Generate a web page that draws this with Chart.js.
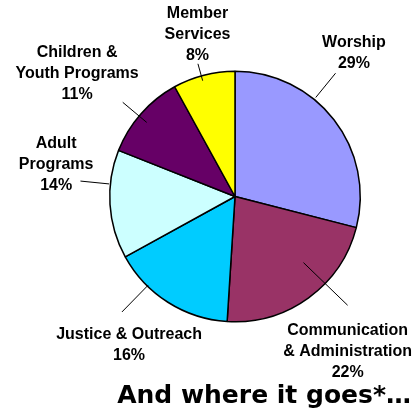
<!DOCTYPE html>
<html>
<head>
<meta charset="utf-8">
<script src="https://cdn.jsdelivr.net/npm/chart.js@4/dist/chart.umd.min.js"></script>
<style>
  html, body { margin: 0; padding: 0; background: #fff; }
  #wrap { width: 413px; height: 413px; }
</style>
</head>
<body>
<div id="wrap"><canvas id="pie" width="413" height="413"></canvas></div>
<script>
// budget split, clockwise from 12 o'clock
const categories = ['Worship', 'Communication\n& Administration', 'Justice & Outreach', 'Adult\nPrograms', 'Children &\nYouth Programs', 'Member\nServices'];
const shares = [29, 22, 16, 14, 11, 8];
const sliceColors = ['#9999FF', '#993366', '#00CCFF', '#CCFFFF', '#660066', '#FFFF00'];
const titleText = 'And where it goes*\u2026';

// label placement relative to each slice's mid angle (degrees / fraction of radius)
const labelLayout = [
  { dA: -12.6, dist: 1.49, lineA: -13, l0: 1.02, l1: 1.27 },
  { dA: 0,     dist: 1.53, lineA: -10, l0: 0.76, l1: 1.25 },
  { dA: 3,     dist: 1.46, lineA: 12,  l0: 0.99, l1: 1.29 },
  { dA: 13.6,  dist: 1.45, lineA: 9.3, l0: 1.01, l1: 1.24 },
  { dA: -3.4,  dist: 1.60, lineA: -1.4, l0: 0.92, l1: 1.17 },
  { dA: 1.4,   dist: 1.33, lineA: -1.2, l0: 0.96, l1: 1.10 }
];

const labelPlugin = {
  id: 'pieLabels',
  afterDatasetsDraw(chart) {
    const ctx = chart.ctx;
    const meta = chart.getDatasetMeta(0);
    ctx.save();
    meta.data.forEach((arc, i) => {
      const lay = labelLayout[i];
      const mid = (arc.startAngle + arc.endAngle) / 2;
      const r = arc.outerRadius;
      // leader line
      const la = mid + lay.lineA * Math.PI / 180;
      ctx.strokeStyle = '#000';
      ctx.lineWidth = 1;
      ctx.beginPath();
      ctx.moveTo(arc.x + Math.cos(la) * r * lay.l0, arc.y + Math.sin(la) * r * lay.l0);
      ctx.lineTo(arc.x + Math.cos(la) * r * lay.l1, arc.y + Math.sin(la) * r * lay.l1);
      ctx.stroke();
      // text block
      const a = mid + lay.dA * Math.PI / 180;
      const cx = arc.x + Math.cos(a) * r * lay.dist;
      const cy = arc.y + Math.sin(a) * r * lay.dist;
      const lines = categories[i].split('\n').concat([shares[i] + '%']);
      const lh = 21;
      ctx.font = 'bold 16px "Liberation Sans", Arial, sans-serif';
      ctx.fillStyle = '#000';
      ctx.textAlign = 'center';
      ctx.textBaseline = 'middle';
      const top = cy - (lines.length - 1) * lh / 2;
      lines.forEach((t, k) => ctx.fillText(t, cx, top + k * lh));
    });
    // bottom caption
    ctx.font = 'bold 25px "DejaVu Sans", sans-serif';
    ctx.textAlign = 'right';
    ctx.textBaseline = 'alphabetic';
    ctx.fillStyle = '#000';
    ctx.fillText(titleText, 411, 403, 294);
    ctx.restore();
  }
};

new Chart(document.getElementById('pie').getContext('2d'), {
  type: 'pie',
  data: {
    labels: categories,
    datasets: [{
      data: shares,
      backgroundColor: sliceColors,
      borderColor: '#000',
      borderWidth: 1.5
    }]
  },
  options: {
    responsive: false,
    animation: false,
    events: [],
    layout: { padding: { left: 109, top: 70, right: 52, bottom: 90 } },
    plugins: {
      legend: { display: false },
      tooltip: { enabled: false },
      title: { display: false }
    }
  },
  plugins: [labelPlugin]
});
</script>
</body>
</html>
